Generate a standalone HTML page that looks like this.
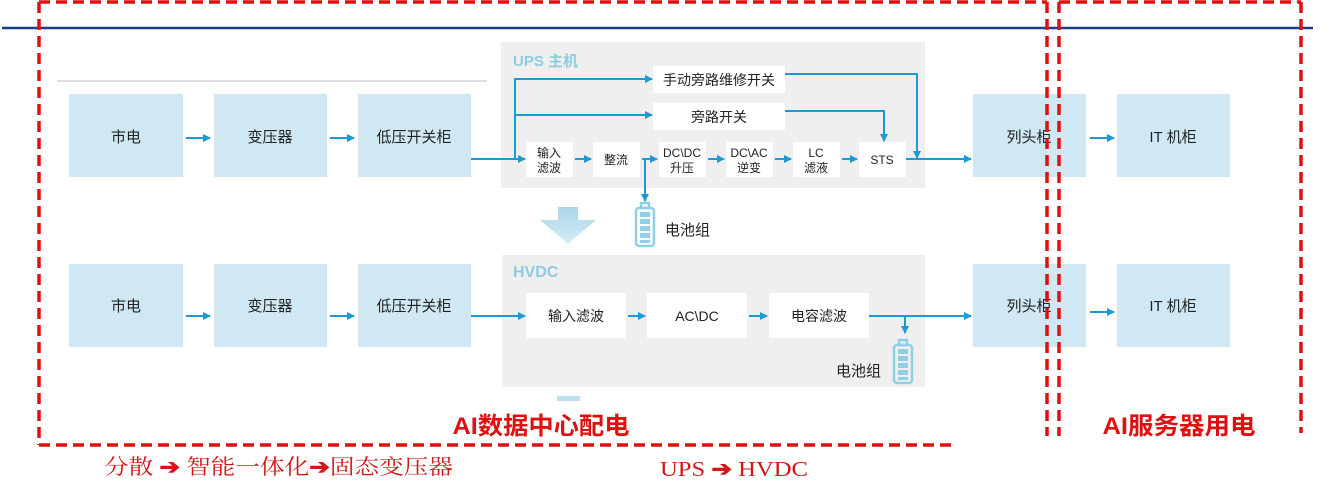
<!DOCTYPE html>
<html><head><meta charset="utf-8"><style>
html,body{margin:0;padding:0;background:#fff;width:1334px;height:500px;overflow:hidden}
svg{display:block}
text{font-family:"Liberation Sans","Noto Sans CJK SC",sans-serif}
</style></head><body>
<svg width="1334" height="500" viewBox="0 0 1334 500" xmlns="http://www.w3.org/2000/svg">
<defs>
<marker id="a" markerWidth="8" markerHeight="8" refX="7" refY="4" orient="auto" markerUnits="userSpaceOnUse"><path d="M0,0 L8,4 L0,8 Z" fill="#1b9ad6"/></marker>
<linearGradient id="g" x1="0" y1="0" x2="0" y2="1"><stop offset="0" stop-color="#a9d5ea"/><stop offset="1" stop-color="#d6ecf6"/></linearGradient>
</defs>
<line x1="2" y1="28" x2="1313" y2="28" stroke="#1e3c8c" stroke-width="2.5"/>
<line x1="57" y1="81" x2="487" y2="81" stroke="#bbb" stroke-width="1"/>

<rect x="501" y="42" width="424" height="146" fill="#efefef"/>
<rect x="502" y="255" width="423" height="132" fill="#efefef"/>
<text x="513" y="66" font-size="15" font-weight="bold" fill="#8fcbe0">UPS 主机</text>
<text x="513" y="277" font-size="16" font-weight="bold" fill="#8fcbe0">HVDC</text>

<g fill="#cfe8f3">
<rect x="69" y="94" width="114" height="83"/><rect x="214" y="94" width="113" height="83"/><rect x="358" y="94" width="113" height="83"/>
<rect x="69" y="264" width="114" height="83"/><rect x="214" y="264" width="113" height="83"/><rect x="358" y="264" width="113" height="83"/>
<rect x="973" y="94" width="113" height="83"/><rect x="1117" y="94" width="113" height="83"/>
<rect x="973" y="264" width="113" height="83"/><rect x="1117" y="264" width="113" height="83"/>
</g>
<g font-size="15" fill="#222" text-anchor="middle">
<text x="126" y="142">市电</text><text x="270" y="142">变压器</text><text x="414" y="142">低压开关柜</text>
<text x="126" y="311">市电</text><text x="270" y="311">变压器</text><text x="414" y="311">低压开关柜</text>
<text x="1029" y="142">列头柜</text><text x="1173" y="142">IT 机柜</text>
<text x="1029" y="311">列头柜</text><text x="1173" y="311">IT 机柜</text>
</g>

<g fill="#fff">
<rect x="653" y="66" width="132" height="27"/><rect x="653" y="103" width="132" height="27"/>
<rect x="526" y="142" width="47" height="35"/><rect x="593" y="142" width="47" height="35"/><rect x="659" y="142" width="47" height="35"/>
<rect x="726" y="142" width="47" height="35"/><rect x="793" y="142" width="47" height="35"/><rect x="859" y="142" width="47" height="35"/>
<rect x="526" y="293" width="100" height="45"/><rect x="647" y="293" width="100" height="45"/><rect x="769" y="293" width="100" height="45"/>
</g>
<g font-size="14" fill="#222" text-anchor="middle">
<text x="719" y="85">手动旁路维修开关</text><text x="719" y="122">旁路开关</text>
</g>
<g font-size="12" fill="#222" text-anchor="middle">
<text x="549" y="157">输入</text><text x="549" y="172">滤波</text>
<text x="616" y="164">整流</text>
<text x="682" y="157">DC\DC</text><text x="682" y="172">升压</text>
<text x="749" y="157">DC\AC</text><text x="749" y="172">逆变</text>
<text x="816" y="157">LC</text><text x="816" y="172">滤液</text>
<text x="882" y="164">STS</text>
</g>
<g font-size="14" fill="#222" text-anchor="middle">
<text x="576" y="321">输入滤波</text><text x="697" y="321">AC\DC</text><text x="819" y="321">电容滤波</text>
</g>

<g stroke="#1b9ad6" stroke-width="2" fill="none" marker-end="url(#a)">
<line x1="186" y1="138" x2="210" y2="138"/><line x1="330" y1="138" x2="354" y2="138"/>
<line x1="186" y1="316" x2="210" y2="316"/><line x1="330" y1="316" x2="354" y2="316"/>
<line x1="1090" y1="138" x2="1114" y2="138"/><line x1="1090" y1="312" x2="1114" y2="312"/>
<polyline points="471,159 525,159"/>
<polyline points="515,159 515,79 652,79"/>
<polyline points="515,115 652,115"/>
<line x1="575" y1="159" x2="591" y2="159"/><line x1="642" y1="159" x2="657" y2="159"/>
<line x1="708" y1="159" x2="724" y2="159"/><line x1="775" y1="159" x2="791" y2="159"/><line x1="842" y1="159" x2="857" y2="159"/>
<polyline points="785,74 917,74 917,158"/>
<polyline points="785,111 884,111 884,141"/>
<polyline points="906,159 971,159"/>
<polyline points="645,159 645,201"/>
<polyline points="471,316 525,316"/>
<line x1="628" y1="316" x2="645" y2="316"/><line x1="749" y1="316" x2="767" y2="316"/>
<polyline points="869,316 971,316"/>
<polyline points="905,316 905,333"/>
</g>

<g stroke="#8fd0e6" stroke-width="2.5" fill="none">
<rect x="636" y="208" width="18" height="38" rx="3"/><rect x="641" y="203" width="8" height="5"/>
<rect x="894" y="345" width="18" height="38" rx="3"/><rect x="899" y="340" width="8" height="5"/>
</g>
<g fill="#8fd0e6">
<rect x="640" y="212" width="10" height="5"/><rect x="640" y="219" width="10" height="5"/><rect x="640" y="226" width="10" height="5"/><rect x="640" y="233" width="10" height="5"/><rect x="640" y="240" width="10" height="3"/>
<rect x="898" y="349" width="10" height="5"/><rect x="898" y="356" width="10" height="5"/><rect x="898" y="363" width="10" height="5"/><rect x="898" y="370" width="10" height="5"/><rect x="898" y="377" width="10" height="3"/>
</g>
<text x="665" y="235" font-size="15" fill="#222">电池组</text>
<text x="836" y="376" font-size="15" fill="#222">电池组</text>

<path d="M558,207 L578,207 L578,220 L596,220 L568,244 L540,220 L558,220 Z" fill="url(#g)"/>
<rect x="557" y="396" width="23" height="5" fill="#bde0ef"/>

<g stroke="#e01010" stroke-width="3.5" fill="none" stroke-dasharray="11,6">
<polyline points="39,2 1047,2"/>
<line x1="39" y1="2" x2="39" y2="445"/>
<line x1="39" y1="445" x2="955" y2="445"/>
<line x1="1047" y1="2" x2="1047" y2="436"/>
<line x1="1059" y1="2" x2="1059" y2="436"/>
<line x1="1059" y1="2" x2="1301" y2="2"/>
<line x1="1301" y1="2" x2="1301" y2="433"/>
</g>
<text x="541" y="434" font-size="24" font-weight="bold" fill="#e01010" text-anchor="middle" textLength="177" lengthAdjust="spacingAndGlyphs">AI数据中心配电</text>
<text x="1179" y="434" font-size="24" font-weight="bold" fill="#e01010" text-anchor="middle" textLength="153" lengthAdjust="spacingAndGlyphs">AI服务器用电</text>
<text x="104" y="474" font-size="21" fill="#d01818" textLength="349" lengthAdjust="spacingAndGlyphs" style="font-family:'Liberation Serif','Noto Serif CJK SC',serif">分散 <tspan font-weight="bold">➔</tspan> 智能一体化<tspan font-weight="bold">➔</tspan>固态变压器</text>
<text x="660" y="476" font-size="21" fill="#d01818" textLength="148" lengthAdjust="spacingAndGlyphs" style="font-family:'Liberation Serif','Noto Serif CJK SC',serif">UPS <tspan font-weight="bold">➔</tspan> HVDC</text>
</svg>
</body></html>
